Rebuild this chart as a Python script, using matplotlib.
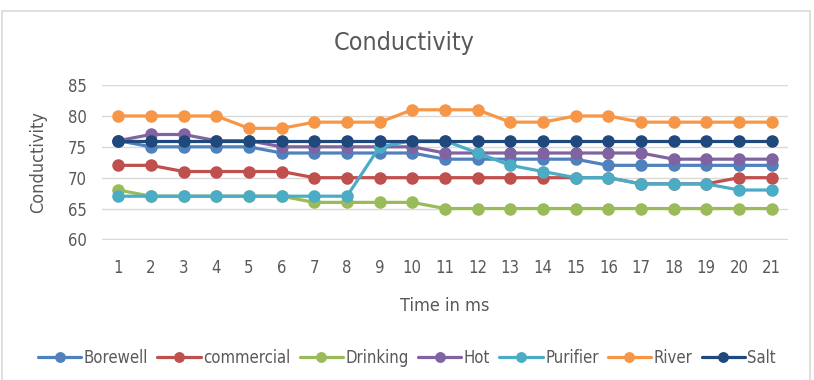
import matplotlib
matplotlib.use('Agg')
import matplotlib.pyplot as plt
from matplotlib.patches import Rectangle

# --- data ---
time_ms = list(range(1, 22))
borewell = [76, 75, 75, 75, 75, 74, 74, 74, 74, 74, 73, 73, 73, 73, 73, 72, 72, 72, 72, 72, 72]
commercial = [72, 72, 71, 71, 71, 71, 70, 70, 70, 70, 70, 70, 70, 70, 70, 70, 69, 69, 69, 70, 70]
drinking = [68, 67, 67, 67, 67, 67, 66, 66, 66, 66, 65, 65, 65, 65, 65, 65, 65, 65, 65, 65, 65]
hot = [76, 77, 77, 76, 76, 75, 75, 75, 75, 75, 74, 74, 74, 74, 74, 74, 74, 73, 73, 73, 73]
purifier = [67, 67, 67, 67, 67, 67, 67, 67, 75, 76, 76, 74, 72, 71, 70, 70, 69, 69, 69, 68, 68]
river = [80, 80, 80, 80, 78, 78, 79, 79, 79, 81, 81, 81, 79, 79, 80, 80, 79, 79, 79, 79, 79]
salt = [76] * 21

series = [
    ('Borewell', borewell, '#4F81BD'),
    ('commercial', commercial, '#C0504D'),
    ('Drinking', drinking, '#9BBB59'),
    ('Hot', hot, '#8064A2'),
    ('Purifier', purifier, '#4BACC6'),
    ('River', river, '#F79646'),
    ('Salt', salt, '#1F497D'),
]

plt.rcParams['font.family'] = ['DejaVu Sans']
plt.rcParams['font.stretch'] = 'condensed'
txt = '#595959'

fig = plt.figure(figsize=(8.14, 3.80), dpi=100)
ax = fig.add_axes([0.1253, 0.3684, 0.968 - 0.1253, 0.7776 - 0.3684])

# chart frame
fig.patches.append(Rectangle((2 / 814, -0.05), 808 / 814, 1.05 - 11 / 380,
                             transform=fig.transFigure, fill=False,
                             edgecolor='#D9D9D9', linewidth=1.2))

for name, vals, col in series:
    ax.plot(time_ms, vals, color=col, linewidth=2.3, marker='o',
            markersize=8, label=name, solid_capstyle='round')

ax.set_xlim(0.5, 21.5)
ax.set_ylim(59.9, 85.1)
ax.set_yticks(range(60, 86, 5))
ax.set_xticks(time_ms)
ax.grid(axis='y', color='#D9D9D9', linewidth=1)
ax.set_axisbelow(True)
for s in ax.spines.values():
    s.set_visible(False)
ax.tick_params(length=0, labelsize=12, colors=txt)
ax.tick_params(axis='x', pad=14)
ax.tick_params(axis='y', pad=11)

ax.set_ylabel('Conductivity', fontsize=13, color=txt, labelpad=15)
ax.set_xlabel('Time in ms', fontsize=13, color=txt, labelpad=14)
fig.text(0.497, 0.886, 'Conductivity', ha='center', va='center',
         fontsize=18, color=txt)

fig.legend(loc='center', bbox_to_anchor=(0.5, 0.058), ncol=7, frameon=False,
           fontsize=12, labelcolor=txt, handlelength=2.6, handletextpad=0.15,
           columnspacing=0.55, markerscale=0.85)

fig.savefig('out.png', dpi=100)
